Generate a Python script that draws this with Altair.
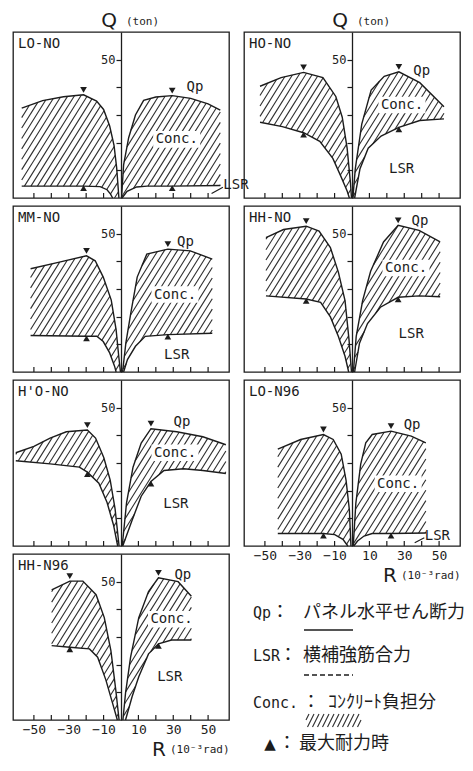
import altair as alt
import numpy as np
import pandas as pd

# ---------------- data: R (10^-3 rad), Q (ton) ----------------
R_TICKS = [-50, -40, -30, -20, -10, 10, 20, 30, 40, 50]
R_LABELS = [-50, -30, -10, 10, 30, 50]
Q_TICKS = [10, 20, 30, 40, 50]

# LO-NO
LONO_QP_NEG = [(-57, 32.5), (-45, 35.2), (-33, 36.6), (-21.5, 37.3), (-14, 35.0), (-10, 32.0), (-6.5, 26.0), (-4, 19.0), (-2.5, 11.0), (-1.2, 0)]
LONO_LSR_NEG = [(-57, 4.3), (-21.5, 4.3), (-12, 4.1), (-8, 3.0), (-6, 1.4), (-4.8, 0)]
LONO_QP_POS = [(0.3, 0), (1.5, 12.0), (4.4, 21.8), (8.3, 30.0), (13, 35.3), (20, 36.5), (29.4, 37.0), (40, 36.0), (50, 34.0), (57, 31.8)]
LONO_LSR_POS = [(0.6, 0), (3.5, 2.4), (9, 4.0), (15, 4.3), (29.4, 4.3), (57, 4.5)]
LONO_PEAKS = [(-21.5, 37.3, 4.3), (29.4, 37.0, 4.3)]

# HO-NO
HONO_QP_NEG = [(-52.8, 40.4), (-40.7, 43.5), (-27.8, 45.4), (-16.7, 43.5), (-9.3, 36.7), (-5.6, 29.2), (-2.8, 18.0), (-0.9, 5.6), (-0.3, 0)]
HONO_LSR_NEG = [(-52.8, 27.4), (-40, 25.8), (-27.8, 23.6), (-18.5, 20.5), (-11, 14.3), (-6.5, 8.0), (-2.8, 2.5), (-1.5, 0)]
HONO_QP_POS = [(0.5, 0), (1.9, 10.6), (5.6, 26.7), (11, 39.0), (18.5, 44.0), (26.9, 45.6), (38.9, 41.7), (52.8, 33.0)]
HONO_LSR_POS = [(1.5, 0), (4.6, 10.6), (9.3, 18.0), (16.7, 22.4), (26.9, 25.5), (38.9, 28.0), (52.8, 28.6)]
HONO_PEAKS = [(-27.8, 45.4, 23.6), (26.9, 45.6, 25.5)]

# MM-NO
MMNO_QP_NEG = [(-51.9, 37.3), (-36, 39.6), (-19.8, 42.0), (-14.8, 40.2), (-10.2, 34.3), (-5.6, 26.0), (-2.8, 15.2), (-1.3, 5.7), (-0.3, 0)]
MMNO_LSR_NEG = [(-51.9, 13.2), (-19.8, 12.9), (-13.9, 12.9), (-10.2, 11.0), (-6.5, 6.9), (-3.7, 2.1), (-2.8, 0)]
MMNO_QP_POS = [(0.9, 0), (2.8, 10.5), (5.6, 21.2), (9.3, 34.3), (14.8, 42.6), (26.9, 44.4), (39.8, 43.8), (52.4, 40.8)]
MMNO_LSR_POS = [(1.5, 0), (3.7, 4.5), (8.3, 9.3), (13.9, 12.9), (26.9, 13.5), (52.4, 14.0)]
MMNO_PEAKS = [(-19.8, 42.0, 12.9), (26.9, 44.4, 13.5)]

# HH-NO
HHNO_QP_NEG = [(-49.4, 48.6), (-39.3, 51.5), (-26.3, 52.7), (-18.9, 50.9), (-12.4, 45.0), (-7.8, 36.0), (-4, 25.8), (-1.7, 11.6), (-0.3, 0)]
HHNO_LSR_NEG = [(-49.4, 27.5), (-26.3, 26.4), (-18, 25.2), (-12.4, 19.9), (-7.8, 12.8), (-4, 5.7), (-1.9, 0)]
HHNO_QP_POS = [(0.8, 0), (2.4, 12.8), (6.1, 25.8), (10.7, 36.4), (18.1, 47.0), (26.5, 53.0), (38.5, 51.2), (50.6, 47.0)]
HHNO_LSR_POS = [(1.5, 0), (4.3, 10.4), (8.9, 17.5), (16.3, 23.4), (26.5, 27.0), (38.5, 27.5), (50.6, 27.2)]
HHNO_PEAKS = [(-26.3, 52.7, 26.4), (26.5, 53.0, 27.0)]

# H'O-NO
HPNO_QP_NEG = [(-60.4, 33.7), (-50, 36.0), (-40.7, 39.0), (-31.4, 41.3), (-19.3, 41.9), (-14.6, 39.0), (-9.9, 32.0), (-6.2, 23.8), (-3.4, 13.4), (-1.1, 0)]
HPNO_LSR_NEG = [(-60.4, 30.8), (-40.7, 29.7), (-23.9, 28.5), (-19.3, 26.7), (-12.7, 22.7), (-8, 15.7), (-4.3, 7.6), (-1.9, 0)]
HPNO_QP_POS = [(0.7, 0), (3.2, 15.7), (6.9, 28.5), (11.6, 37.2), (17.2, 42.4), (32, 41.3), (47, 39.5), (60.2, 36.6)]
HPNO_LSR_POS = [(1.0, 0), (6, 8.7), (11.6, 18.0), (17.2, 23.3), (24.7, 27.3), (35.9, 27.9), (47, 27.3), (60.2, 26.2)]
HPNO_PEAKS = [(-19.3, 41.9, 26.7), (17.2, 42.4, 23.3)]

# LO-N96
LON96_QP_NEG = [(-42.6, 35.0), (-29.5, 38.5), (-16.4, 40.3), (-10.8, 38.5), (-6.2, 33.2), (-3.4, 23.7), (-1.5, 13.0), (-0.6, 0)]
LON96_LSR_NEG = [(-42.6, 4.5), (-16.4, 4.5), (-9.9, 4.1), (-5.2, 2.4), (-2.4, 0)]
LON96_QP_POS = [(0.7, 0), (2.2, 15.4), (5, 29.6), (7.9, 37.3), (11.6, 40.3), (22.4, 41.5), (34, 39.7), (42.4, 37.3)]
LON96_LSR_POS = [(1.0, 0), (3.2, 1.8), (6.9, 3.6), (11.6, 4.5), (22.4, 4.5), (42.4, 4.7)]
LON96_PEAKS = [(-16.4, 40.3, 4.5), (22.4, 41.5, 4.5)]

# HH-N96
HHN96_QP_NEG = [(-39.8, 47.0), (-29.4, 50.2), (-21.9, 50.2), (-14.3, 45.3), (-9.6, 37.0), (-5.8, 25.1), (-3, 10.9), (-1.1, 0)]
HHN96_LSR_NEG = [(-39.8, 26.9), (-29.4, 26.3), (-18.1, 25.7), (-13.4, 22.7), (-8.7, 14.5), (-4.9, 6.2), (-2.1, 0)]
HHN96_QP_POS = [(1.1, 0), (2.6, 9.7), (5.5, 22.7), (10.2, 37.0), (15.8, 46.4), (21.5, 51.4), (32.8, 50.0), (40.4, 44.7)]
HHN96_LSR_POS = [(2.6, 0), (6.4, 8.5), (10.2, 15.6), (15.8, 23.9), (21.5, 27.5), (29, 28.9), (40.4, 28.9)]
HHN96_PEAKS = [(-29.4, 50.2, 26.3), (21.5, 51.4, 27.5)]

# label anchors (R, Q): Qp, Conc., LSR ; leader lines (R1, Q1, R2, Q2)
LONO_LABELS = [(42.5, 40.0), (32, 21.2), (66, 4.6)]
LONO_LEADER = [(52, 1.6, 58.5, 3.9)]
HONO_LABELS = [(40, 46.0), (28.7, 33.6), (28.5, 10.6)]
MMNO_LABELS = [(37, 47.0), (31, 28.0), (32, 6.3)]
HHNO_LABELS = [(39, 54.7), (31, 37.6), (34, 13.9)]
HPNO_LABELS = [(35, 44.8), (31, 33.7), (31.5, 15.1)]
LON96_LABELS = [(34.5, 43.8), (26.5, 22.5), (49, 3.6)]
LON96_LEADER = [(36, 1.2, 41.5, 3.0)]
HHN96_LABELS = [(35.5, 52.4), (29, 36.4), (28, 15.6)]

# ---------------- styling ----------------
INK = "#1c1c1c"
HATCH = "#2e2e2e"
MONO = "DejaVu Sans Mono"
SANS = "DejaVu Sans"
JP = "Noto Sans CJK JP"
W, H = 216, 166
XDOM = [-62, 62]
YDOM = [0, 60]
SX = W / (XDOM[1] - XDOM[0])
SY = H / (YDOM[1] - YDOM[0])
HATCH_SLOPE = 1.6
HATCH_GAP = 6.5


def hatch_segments(poly, sx, sy, gap=HATCH_GAP, slope=HATCH_SLOPE):
    pts = np.asarray(poly, dtype=float)
    px = pts[:, 0] * sx
    py = pts[:, 1] * sy
    vals = py - slope * px
    dc = slope * gap
    rows = []
    n = len(pts)
    for k in range(int(np.ceil(vals.min() / dc)), int(np.floor(vals.max() / dc)) + 1):
        c = k * dc
        f = vals - c
        xs = []
        for i in range(n):
            j = (i + 1) % n
            if (f[i] > 0) != (f[j] > 0):
                t = f[i] / (f[i] - f[j])
                xs.append(px[i] + t * (px[j] - px[i]))
        xs.sort()
        for a, b in zip(xs[0::2], xs[1::2]):
            rows.append({"R": a / sx, "Q": (slope * a + c) / sy,
                         "R2": b / sx, "Q2": (slope * b + c) / sy})
    return rows


def panel(name, qp_neg, lsr_neg, qp_pos, lsr_pos, peaks, labels, leader=(), top=False, bottom=False):
    xs = alt.Scale(domain=XDOM, nice=False, zero=False)
    ys = alt.Scale(domain=YDOM, nice=False, zero=False)
    if bottom:
        xax = alt.Axis(values=R_LABELS, ticks=False, domain=False, grid=False, labelFont=MONO,
                       labelFontSize=13, labelColor=INK, labelPadding=3, title=None)
    else:
        xax = None
    yax = alt.Axis(values=Q_TICKS, offset=-W / 2, grid=False, tickSize=5, tickColor=INK,
                   domainColor=INK, domainWidth=1.3, tickWidth=1.2, labelFont=MONO,
                   labelFontSize=12, labelColor=INK, labelPadding=1,
                   labelExpr="datum.value == 50 ? '50' : ''", title=None, zindex=2)

    def X(f):
        return alt.X(f, type="quantitative", scale=xs, axis=xax)

    def Y(f):
        return alt.Y(f, type="quantitative", scale=ys, axis=yax)

    segs = hatch_segments(list(qp_neg) + list(lsr_neg)[::-1], SX, SY) + \
        hatch_segments(list(qp_pos) + list(lsr_pos)[::-1], SX, SY)
    hatch = alt.Chart(pd.DataFrame(segs)).mark_rule(color=HATCH, strokeWidth=1.1).encode(
        x=X("R"), y=Y("Q"), x2="R2", y2="Q2")

    cR, cQ = labels[1]
    clear = alt.Chart(pd.DataFrame([{"R1": cR - 13.5, "R2": cR + 13.5, "Q1": cQ - 3.0, "Q2": cQ + 3.0}])).mark_rect(
        color="white").encode(x=X("R1"), x2="R2", y=Y("Q1"), y2="Q2")

    rows = []
    for sname, curve in (("qn", qp_neg), ("ln", lsr_neg), ("qpz", qp_pos), ("lpz", lsr_pos)):
        for i, (r, q) in enumerate(curve):
            rows.append({"R": r, "Q": q, "s": sname, "i": i})
    lines = alt.Chart(pd.DataFrame(rows)).mark_line(color=INK, strokeWidth=1.4).encode(
        x=X("R"), y=Y("Q"), detail="s:N", order="i:Q")

    pk = pd.DataFrame([{"R": r, "Qp": a, "Ql": b} for r, a, b in peaks])
    down = alt.Chart(pk).mark_point(shape="triangle-down", filled=True, size=45, color=INK,
                                    opacity=1, yOffset=-5).encode(x=X("R"), y=Y("Qp"))
    up = alt.Chart(pk).mark_point(shape="triangle-up", filled=True, size=45, color=INK,
                                  opacity=1, yOffset=2).encode(x=X("R"), y=Y("Ql"))

    lab = pd.DataFrame([{"R": r, "Q": q, "t": t} for (r, q), t in zip(labels, ["Qp", "Conc.", "LSR"])])
    texts = alt.Chart(lab).mark_text(font=MONO, fontSize=14, color=INK, baseline="middle").encode(
        x=X("R"), y=Y("Q"), text="t:N")

    ticks = alt.Chart(pd.DataFrame({"t": R_TICKS})).mark_rule(color=INK, strokeWidth=1.2).encode(
        x=X("t"), y=alt.value(H), y2=alt.value(H - 5))

    title = alt.Chart(pd.DataFrame({"t": [name]})).mark_text(
        font=MONO, fontSize=14, color=INK, align="left", baseline="top").encode(
        x=alt.value(5), y=alt.value(5), text="t:N")

    layers = [hatch, clear, lines, down, up, texts, ticks, title]

    if leader:
        ld = pd.DataFrame([{"R": a, "Q": b, "R2": c, "Q2": d} for a, b, c, d in leader])
        layers.append(alt.Chart(ld).mark_rule(color=INK, strokeWidth=1.1).encode(
            x=X("R"), y=Y("Q"), x2="R2", y2="Q2"))

    if top:
        layers.append(alt.Chart(pd.DataFrame({"t": ["Q"]})).mark_text(
            font=SANS, fontSize=20, color=INK, align="center", baseline="middle").encode(
            x=alt.value(W / 2 - 12), y=alt.value(-11), text="t:N"))
        layers.append(alt.Chart(pd.DataFrame({"t": ["(ton)"]})).mark_text(
            font=MONO, fontSize=11, color=INK, align="left", baseline="middle").encode(
            x=alt.value(W / 2 + 5), y=alt.value(-10), text="t:N"))
    if bottom:
        layers.append(alt.Chart(pd.DataFrame({"t": ["R"]})).mark_text(
            font=SANS, fontSize=20, color=INK, align="center", baseline="middle").encode(
            x=alt.value(W / 2 + 38), y=alt.value(H + 30), text="t:N"))
        layers.append(alt.Chart(pd.DataFrame({"t": ["(10⁻³rad)"]})).mark_text(
            font=MONO, fontSize=11, color=INK, align="left", baseline="middle").encode(
            x=alt.value(W / 2 + 49), y=alt.value(H + 30), text="t:N"))

    return alt.layer(*layers).properties(width=W, height=H)


def legend():
    xs = alt.Scale(domain=[0, W], nice=False, zero=False)
    ys = alt.Scale(domain=[0, H], nice=False, zero=False, reverse=True)
    items = [
        # key, colon x, description, description x, row y, key x
        ("Qp", 36, "パネル水平せん断力", 59, 59, 9),
        ("LSR", 44, "横補強筋合力", 59, 102, 9),
        ("Conc.", 67, "ｺﾝｸﾘｰﾄ負担分", 84, 149, 9),
    ]
    layers = []
    for key, cx, desc, dx, y, kx in items:
        layers.append(alt.Chart(pd.DataFrame({"t": [key]})).mark_text(
            font=MONO, fontSize=15, color=INK, align="left", baseline="middle").encode(
            x=alt.value(kx), y=alt.value(y), text="t:N"))
        layers.append(alt.Chart(pd.DataFrame({"t": ["："]})).mark_text(
            font=JP, fontSize=18, color=INK, align="center", baseline="middle").encode(
            x=alt.value(cx), y=alt.value(y), text="t:N"))
        layers.append(alt.Chart(pd.DataFrame({"t": [desc]})).mark_text(
            font=JP, fontSize=18, color=INK, align="left", baseline="middle").encode(
            x=alt.value(dx), y=alt.value(y), text="t:N"))
    # triangle row
    layers.append(alt.Chart(pd.DataFrame({"t": ["▲"]})).mark_text(
        font=SANS, fontSize=15, color=INK, align="center", baseline="middle").encode(
        x=alt.value(26), y=alt.value(190), text="t:N"))
    layers.append(alt.Chart(pd.DataFrame({"t": ["："]})).mark_text(
        font=JP, fontSize=18, color=INK, align="center", baseline="middle").encode(
        x=alt.value(43), y=alt.value(190), text="t:N"))
    layers.append(alt.Chart(pd.DataFrame({"t": ["最大耐力時"]})).mark_text(
        font=JP, fontSize=18, color=INK, align="left", baseline="middle").encode(
        x=alt.value(55), y=alt.value(190), text="t:N"))
    # line samples
    layers.append(alt.Chart(pd.DataFrame({"t": [0]})).mark_rule(color=INK, strokeWidth=1.4).encode(
        x=alt.value(60), x2=alt.value(109), y=alt.value(76)))
    layers.append(alt.Chart(pd.DataFrame({"t": [0]})).mark_rule(color=INK, strokeWidth=1.4, strokeDash=[5, 3]).encode(
        x=alt.value(60), x2=alt.value(109), y=alt.value(121)))
    segs = hatch_segments([(62, 160), (117, 160), (117, 173), (62, 173)], 1.0, -1.0, gap=5.0, slope=2.0)
    layers.append(alt.Chart(pd.DataFrame(segs)).mark_rule(color=HATCH, strokeWidth=1.1).encode(
        x=alt.X("R:Q", scale=xs, axis=None), y=alt.Y("Q:Q", scale=ys, axis=None),
        x2="R2", y2="Q2"))
    return alt.layer(*layers).properties(width=W, height=H, view=alt.ViewBackground(strokeOpacity=0))


cells = [
    panel("LO-NO", LONO_QP_NEG, LONO_LSR_NEG, LONO_QP_POS, LONO_LSR_POS, LONO_PEAKS, LONO_LABELS, LONO_LEADER, top=True),
    panel("HO-NO", HONO_QP_NEG, HONO_LSR_NEG, HONO_QP_POS, HONO_LSR_POS, HONO_PEAKS, HONO_LABELS, top=True),
    panel("MM-NO", MMNO_QP_NEG, MMNO_LSR_NEG, MMNO_QP_POS, MMNO_LSR_POS, MMNO_PEAKS, MMNO_LABELS),
    panel("HH-NO", HHNO_QP_NEG, HHNO_LSR_NEG, HHNO_QP_POS, HHNO_LSR_POS, HHNO_PEAKS, HHNO_LABELS),
    panel("H'O-NO", HPNO_QP_NEG, HPNO_LSR_NEG, HPNO_QP_POS, HPNO_LSR_POS, HPNO_PEAKS, HPNO_LABELS),
    panel("LO-N96", LON96_QP_NEG, LON96_LSR_NEG, LON96_QP_POS, LON96_LSR_POS, LON96_PEAKS, LON96_LABELS, LON96_LEADER, bottom=True),
    panel("HH-N96", HHN96_QP_NEG, HHN96_LSR_NEG, HHN96_QP_POS, HHN96_LSR_POS, HHN96_PEAKS, HHN96_LABELS, bottom=True),
    legend(),
]

chart = alt.concat(*cells, columns=2, spacing={"row": 8, "column": 15}, bounds="flush").properties(
    padding={"left": 4, "top": 2, "right": 0, "bottom": 0},
    background="white",
).configure_view(stroke=INK, strokeWidth=1.3)

chart.save("out.html", embed_options={"renderer": "svg", "actions": False})
